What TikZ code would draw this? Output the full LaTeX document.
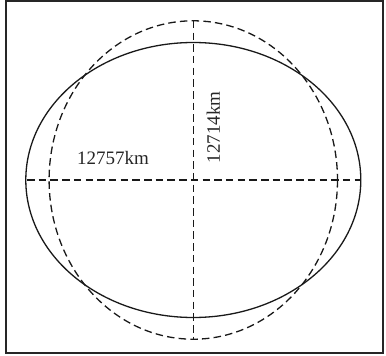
\documentclass[tikz,border=0pt]{standalone}
\usepackage{fontspec}
\setmainfont{Liberation Serif}
\begin{document}
\begin{tikzpicture}[x=1pt,y=-1pt,
  frame/.style={draw=black!85,line width=2pt},
  solidline/.style={draw=black!90,line width=1.3pt},
  dashline/.style={draw=black!90,line width=1.3pt,dash pattern=on 7.5pt off 4.2pt},
  label/.style={font=\fontsize{19}{19}\selectfont,text=black!85,inner sep=0pt}]
\useasboundingbox (0,0) rectangle (386,356);
\draw[frame] (5.5,1) rectangle (383.3,352.5);
\coordinate (c) at (193.3,180);
\draw[solidline] (c) ellipse [x radius=167.5, y radius=137.5];
\draw[dashline] (c) ellipse [x radius=144.2, y radius=159.2];
\coordinate (l) at (27,180);
\coordinate (r) at (361,180);
\coordinate (t) at (193.3,20.8);
\coordinate (b) at (193.3,339.2);
\draw[dashline] (l) -- (r);
\draw[dashline] (t) -- (b);
\node[label,anchor=base] (eq) at (113,164.3) {12757km};
\node[label,anchor=base,rotate=90] (po) at (219.8,127.5) {12714km};
\end{tikzpicture}
\end{document}
